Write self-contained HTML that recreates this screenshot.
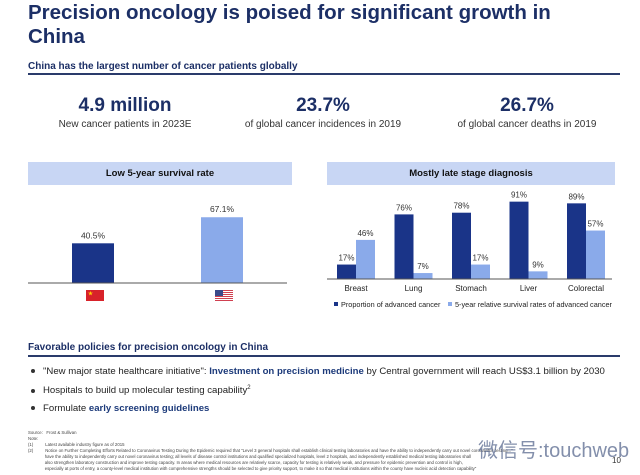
<!DOCTYPE html>
<html><head><meta charset="utf-8"><style>
body{margin:0;width:640px;height:475px;background:#fff;font-family:"Liberation Sans","Noto Sans CJK SC",sans-serif;position:relative;overflow:hidden;color:#222}
.a{position:absolute;white-space:nowrap}
.title{left:28px;top:1px;font-size:20.5px;font-weight:bold;color:#1c2f66;line-height:24px}
.hd{font-size:10px;font-weight:bold;color:#1c2f66}
.rule{position:absolute;height:2px;background:#2a3b6b}
.big{font-size:19px;font-weight:bold;color:#1c2f66;text-align:center;width:190px}
.sub{font-size:10px;color:#333;text-align:center;width:190px}
.box{position:absolute;background:#c8d6f4;height:23px;font-size:9.5px;font-weight:bold;color:#111;text-align:center;line-height:23px}
.bul{font-size:9.6px;color:#222}
.bul b{color:#1c3a7a}
.dot{display:inline-block;width:4px;height:4px;border-radius:2px;background:#333;margin-right:8px;vertical-align:middle}
.fn{font-size:4.3px;color:#444;line-height:6px}
</style></head><body>
<div class="a title">Precision oncology is poised for significant growth in<br>China</div>
<div class="a hd" style="left:28px;top:61px">China has the largest number of cancer patients globally</div>
<div class="rule" style="left:28px;top:73px;width:592px"></div>
<div class="a big" style="left:30px;top:95px">4.9 million</div>
<div class="a sub" style="left:30px;top:119px">New cancer patients in 2023E</div>
<div class="a big" style="left:228px;top:95px">23.7%</div>
<div class="a sub" style="left:228px;top:119px">of global cancer incidences in 2019</div>
<div class="a big" style="left:432px;top:95px">26.7%</div>
<div class="a sub" style="left:432px;top:119px">of global cancer deaths in 2019</div>

<div class="box" style="left:28px;top:162px;width:264px">Low 5-year survival rate</div>
<div class="box" style="left:327px;top:162px;width:288px">Mostly late stage diagnosis</div>

<svg id="c1" class="a" style="left:0;top:0" width="640" height="330"></svg>

<div class="a hd" style="left:28px;top:342px">Favorable policies for precision oncology in China</div>
<div class="rule" style="left:28px;top:355px;width:592px"></div>
<div class="a bul" style="left:31px;top:366px"><span class="dot"></span>"New major state healthcare initiative": <b>Investment on precision medicine</b> by Central government will reach US$3.1 billion by 2030</div>
<div class="a bul" style="left:31px;top:385px"><span class="dot"></span>Hospitals to build up molecular testing capability<sup style="font-size:6px">2</sup></div>
<div class="a bul" style="left:31px;top:403px"><span class="dot"></span>Formulate <b>early screening guidelines</b></div>
<div class="a fn" style="left:28px;top:430px">Source:&nbsp;&nbsp; Frost &amp; Sullivan<br>Note:<br>(1)&nbsp;&nbsp;&nbsp;&nbsp;&nbsp;&nbsp;&nbsp;&nbsp;&nbsp;&nbsp;Latest available industry figure as of 2015<br>(2)&nbsp;&nbsp;&nbsp;&nbsp;&nbsp;&nbsp;&nbsp;&nbsp;&nbsp;&nbsp;Notice on Further Completing Efforts Related to Coronavirus Testing During the Epidemic required that "Level 3 general hospitals shall establish clinical testing laboratories and have the ability to independently carry out novel coronavirus testing..."<br>&nbsp;&nbsp;&nbsp;&nbsp;&nbsp;&nbsp;&nbsp;&nbsp;&nbsp;&nbsp;&nbsp;&nbsp;&nbsp;&nbsp;have the ability to independently carry out novel coronavirus testing; all levels of disease control institutions and qualified specialized hospitals, level 2 hospitals, and independently established medical testing laboratories shall<br>&nbsp;&nbsp;&nbsp;&nbsp;&nbsp;&nbsp;&nbsp;&nbsp;&nbsp;&nbsp;&nbsp;&nbsp;&nbsp;&nbsp;also strengthen laboratory construction and improve testing capacity. In areas where medical resources are relatively scarce, capacity for testing is relatively weak, and pressure for epidemic prevention and control is high,<br>&nbsp;&nbsp;&nbsp;&nbsp;&nbsp;&nbsp;&nbsp;&nbsp;&nbsp;&nbsp;&nbsp;&nbsp;&nbsp;&nbsp;especially at ports of entry, a county-level medical institution with comprehensive strengths should be selected to give priority support, to make it so that medical institutions within the county have nucleic acid detection capability"</div>
<div class="a" style="left:478px;top:434px;font-size:20px;color:#5a6a90;opacity:.75">微信号:touchweb</div>
<div class="a" style="left:612px;top:456px;font-size:8px;color:#333">10</div>

<script>
const ns="http://www.w3.org/2000/svg";
const svg=document.getElementById('c1');
function mk(t,a,txt){const e=document.createElementNS(ns,t);for(const k in a)e.setAttribute(k,a[k]);if(txt!=null)e.textContent=txt;svg.appendChild(e);return e;}
const DARK="#1a3488",LIGHT="#8aaaea";
// Left chart
const survCountries=["China","USA"];
const survValues=[40.5,67.1];
const survLabels=["40.5%","67.1%"];
const lBase=283,lScale=0.98,lX0=72,lStep=129,lW=42;
function ly(v){return lBase-v*lScale;}
survValues.forEach((v,i)=>{
  const x=lX0+i*lStep;
  const r=mk('rect',{x:x,y:ly(v),width:lW,height:v*lScale,fill:i==0?DARK:LIGHT});
  
  
  const t=mk('text',{x:x+lW/2,y:ly(v)-5,'text-anchor':'middle','font-size':'8.5','fill':'#333','font-family':'Liberation Sans'},survLabels[i]);
  
  
});
const la=mk('line',{x1:28,x2:287,y1:lBase,y2:lBase,stroke:'#555','stroke-width':1});


let f=mk('rect',{x:86,y:290,width:18,height:11,fill:'#d8222a'});


mk('text',{x:88,y:295,'font-size':'5',fill:'#ffd200'},'★');
for(let k=0;k<6;k++)mk('rect',{x:215,y:290+k*2,width:18,height:1,fill:'#d04050'});
f=mk('rect',{x:215,y:290,width:8,height:6,fill:'#3a4a8a'});



// Right chart
const cats=["Breast","Lung","Stomach","Liver","Colorectal"];
const advanced=[17,76,78,91,89];
const survival=[46,7,17,9,57];
const rBase=279,rScale=0.85,rX0=337,rStep=57.5,rW=19;
function ry(v){return rBase-v*rScale;}
cats.forEach((c,i)=>{
  const x=rX0+i*rStep;
  [[advanced[i],DARK,'advanced'],[survival[i],LIGHT,'survival']].forEach((s,j)=>{
    const bx=x+j*rW;
    const r=mk('rect',{x:bx,y:ry(s[0]),width:rW,height:s[0]*rScale,fill:s[1]});
    
    
    const t=mk('text',{x:bx+rW/2,y:ry(s[0])-4,'text-anchor':'middle','font-size':'8','fill':'#333','font-family':'Liberation Sans'},s[0]+'%');
    
    
  });
  const t=mk('text',{x:x+rW,y:291,'text-anchor':'middle','font-size':'8','fill':'#222','font-family':'Liberation Sans'},c);
  
  
});
const ra=mk('line',{x1:327,x2:612,y1:rBase,y2:rBase,stroke:'#555','stroke-width':1});


let lg=mk('rect',{x:334,y:302,width:4,height:4,fill:DARK});


mk('text',{x:341,y:307,'font-size':'7.3',fill:'#222','font-family':'Liberation Sans'},'Proportion of advanced cancer');
lg=mk('rect',{x:448,y:302,width:4,height:4,fill:LIGHT});


mk('text',{x:455,y:307,'font-size':'7.3',fill:'#222','font-family':'Liberation Sans'},'5-year relative survival rates of advanced cancer');
</script>
</body></html>
